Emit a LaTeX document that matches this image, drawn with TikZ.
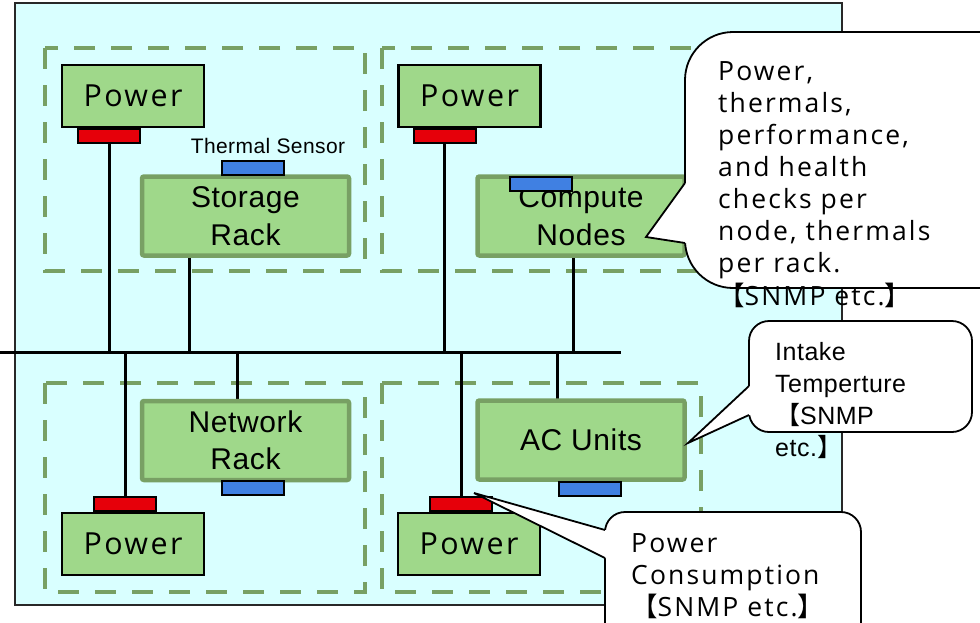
\documentclass[tikz,border=0pt]{standalone}
\usepackage{fontspec}
\setmainfont{Liberation Sans}[LetterSpace=2]
\newfontfamily\gothic{Open Sans}[LetterSpace=8]
\newfontfamily\cjk{Noto Sans CJK JP}
\usetikzlibrary{calc}

\definecolor{roombg}{RGB}{217,255,255}
\definecolor{framegray}{RGB}{40,40,40}
\definecolor{zonegreen}{RGB}{120,160,100}
\definecolor{boxgreen}{RGB}{159,216,138}
\definecolor{padred}{RGB}{230,0,10}
\definecolor{sensorblue}{RGB}{64,128,226}

\pgfdeclarelayer{back}
\pgfdeclarelayer{wires}
\pgfsetlayers{back,wires,main}

\begin{document}
\begin{tikzpicture}[x=1pt,y=-1pt,
  room/.style={fill=roombg,draw=framegray,line width=1.8pt},
  zone/.style={draw=zonegreen,line width=4.5pt,dash pattern=on 21pt off 16pt},
  pbox/.style={draw=black,line width=2.2pt,fill=boxgreen,minimum width=142pt,
    minimum height=62pt,inner sep=0pt,font=\gothic\fontsize{30.4}{36}\selectfont},
  rack/.style={draw=zonegreen,line width=4.5pt,fill=boxgreen,rounded corners=2pt,
    minimum width=207pt,minimum height=79pt,inner sep=0pt,align=center,
    font=\fontsize{30}{37.5}\selectfont},
  pad/.style={draw=black,line width=2pt,minimum width=62pt,minimum height=14pt,inner sep=0pt},
  pwrpad/.style={pad,fill=padred},
  sensor/.style={pad,fill=sensorblue},
  wire/.style={line width=3pt,black},
  bubble/.style={draw=black,line width=1.8pt,fill=white},
  pointer/.style={draw=black,line width=1.8pt},
  % multi-line notes are placed by the baseline of their last line
  note/.style={align=left,inner sep=0pt,anchor=base west},
]
\useasboundingbox (0,0) rectangle (980,622);
\clip (0,0) rectangle (980,622);

% room outline and the four zones
\begin{pgfonlayer}{back}
  \fill[white] (0,0) rectangle (980,622);
  \draw[room] (15,3) rectangle (842,605);
  \draw[zone] (45,48) rectangle (365,271);
  \draw[zone] (382,48) rectangle (702,271);
  \draw[zone] (45,383) rectangle (365,592);
  \draw[zone] (382,383) rectangle (701,592);
\end{pgfonlayer}

% storage zone
\node[pbox] (pwrA) at (133,96) {Power};
\node[pwrpad] (padA) at (109,136) {};
\node[rack] (storage) at (245.5,216) {Storage\\Rack};
\node[sensor] (senS) at (253,168) {};
\node[anchor=base,inner sep=0pt,font=\fontsize{21}{25}\selectfont] (senlabel) at (268,153) {Thermal Sensor};

% compute zone
\node[pbox] (pwrB) at (469.5,96) {Power};
\node[pwrpad] (padB) at (444.5,136) {};
\node[rack] (compute) at (581,216) {Compute\\Nodes};
\node[sensor] (senC) at (540.5,184) {};

% network zone
\node[rack] (network) at (245.5,440.5) {Network\\Rack};
\node[sensor] (senN) at (253,488) {};
\node[pwrpad] (padC) at (125,504) {};
\node[pbox] (pwrC) at (133,544) {Power};

% cooling zone
\node[rack] (acunits) at (581,440) {AC Units};
\node[sensor] (senAC) at (589.5,488.5) {};
\node[pwrpad] (padD) at (461,504) {};
\node[pbox] (pwrD) at (469,544) {Power};

% management bus and its taps
\coordinate (busW) at (0,352);
\coordinate (busE) at (621,352);
\coordinate (tapS) at (189,352);
\coordinate (tapC) at (573,352);
\coordinate (tapN) at (237,352);
\coordinate (tapAC) at (557,352);
\begin{pgfonlayer}{wires}
  \draw[wire] (busW) -- (busE);
  \draw[wire] (padA.center) -- (padA.center |- busW);
  \draw[wire] (tapS |- storage.center) -- (tapS);
  \draw[wire] (padB.center) -- (padB.center |- busW);
  \draw[wire] (tapC |- compute.center) -- (tapC);
  \draw[wire] (padC.center) -- (padC.center |- busW);
  \draw[wire] (tapN |- network.center) -- (tapN);
  \draw[wire] (padD.center) -- (padD.center |- busW);
  \draw[wire] (tapAC |- acunits.center) -- (tapAC);
\end{pgfonlayer}

% callout: per-node monitoring
\coordinate (tipA) at (646,237);
\draw[bubble,rounded corners=48pt] (685,32) rectangle (1040,288);
\fill[white] (tipA) -- (685,183) -- (692,183) -- (692,243) -- (685,243) -- cycle;
\draw[pointer] (685,183) -- (tipA) -- (685,243);
\node[note,font=\gothic\fontsize{26.5}{32.1}\selectfont] (noteA) at (718,305)
  {Power,\\thermals,\\performance,\\and health\\checks per\\node, thermals\\per rack.\\{\cjk 【}SNMP etc.{\cjk 】}};

% callout: intake temperature
\coordinate (tipB) at (688,443);
\draw[bubble,rounded corners=20pt] (749,321) rectangle (972,432);
\fill[white] (tipB) -- (749,386) -- (756,386) -- (756,415) -- (749,415) -- cycle;
\draw[pointer] (749,386) -- (tipB) -- (749,415);
\node[note,font=\fontsize{25}{31.7}\selectfont] (noteB) at (775,456)
  {Intake\\Temperture\\{\cjk 【}SNMP\\etc.{\cjk 】}};

% callout: power consumption
\coordinate (tipC) at (474,493);
\draw[bubble,rounded corners=20pt] (605,512) rectangle (861,680);
\fill[white] (tipC) -- (605,530) -- (612,530) -- (612,558) -- (605,558) -- cycle;
\draw[pointer] (605,530) -- (tipC) -- (605,558);
\node[note,font=\gothic\fontsize{26.5}{32}\selectfont] (noteC) at (631,616)
  {Power\\Consumption\\{\cjk 【}SNMP etc.{\cjk 】}};
\end{tikzpicture}
\end{document}
